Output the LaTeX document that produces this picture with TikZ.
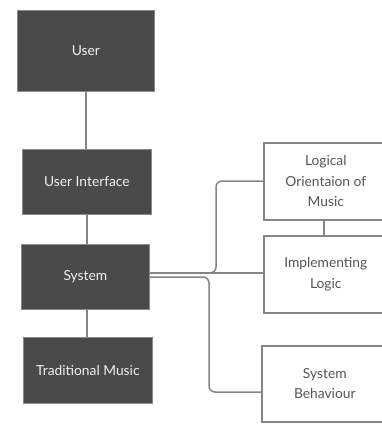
\documentclass[tikz,border=0pt]{standalone}
\usepackage{fontspec}
\setmainfont{Lato}
\definecolor{boxdark}{HTML}{4A4A4A}
\definecolor{boxedge}{HTML}{8A8A8A}
\definecolor{wire}{HTML}{858585}
\definecolor{lighttext}{HTML}{F0F0F0}
\definecolor{greytext}{HTML}{555555}
\tikzset{
  darkbox/.style={draw=boxedge, line width=0.8pt, fill=boxdark, text=lighttext,
    anchor=north west, inner sep=0pt, align=center, font=\fontsize{13.8}{16}\selectfont},
  lightbox/.style={draw=wire, line width=1.6pt, fill=white, text=greytext,
    anchor=north west, inner sep=0pt, align=center, font=\fontsize{13.8}{20.5}\selectfont},
  wireline/.style={draw=wire, line width=1.5pt, rounded corners=6pt},
}
\begin{document}
\begin{tikzpicture}[x=1pt, y=-1pt]
\useasboundingbox (0,0) rectangle (382,424);

% main column
\node[darkbox, minimum width=137pt, minimum height=81pt] (user) at (17,10) {User};
\node[darkbox, minimum width=129pt, minimum height=65pt] (ui) at (22,149) {User Interface};
\node[darkbox, minimum width=128pt, minimum height=65pt] (sys) at (21,244) {System};
\node[darkbox, minimum width=129pt, minimum height=66pt] (trad) at (23,337) {Traditional Music};

% right column (runs past the right edge)
\node[lightbox, minimum width=124pt, minimum height=77pt] (logic) at (263,142) {Logical\\Orientaion of\\Music};
\node[lightbox, minimum width=124pt, minimum height=77pt] (impl) at (263,235) {Implementing\\Logic};
\node[lightbox, minimum width=126pt, minimum height=76pt] (beh) at (261,345) {System\\Behaviour};

% vertical links
\draw[wireline] (user.south -| 86,0) -- (ui.north -| 86,0);
\draw[wireline] (ui.south -| 87,0) -- (sys.north -| 87,0);
\draw[wireline] (sys.south -| 87,0) -- (trad.north -| 87,0);
\draw[wireline] (logic.south -| 324,0) -- (impl.north -| 324,0);

% links from System
\coordinate (sysA) at (sys.east |- 0,273);
\coordinate (sysB) at (sys.east |- 0,277);
\draw[wireline] (sysA) -- (216,273) -- (216,181) -- (logic.west |- 0,181);
\draw[wireline] (sysA) -- (impl.west |- 0,273);
\draw[wireline] (sysB) -- (209,277) -- (209,392) -- (beh.west |- 0,392);
\end{tikzpicture}
\end{document}
